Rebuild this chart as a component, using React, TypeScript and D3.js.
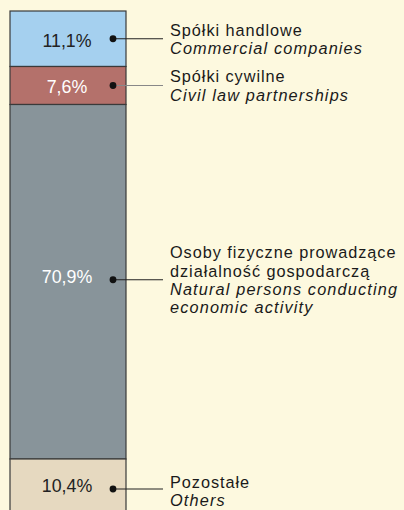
import React from "react";
import * as d3 from "d3";

const categories = ["commercial", "civil", "natural", "others"];
const values = [11.1, 7.6, 70.9, 10.4];
const valueLabels = ["11,1%", "7,6%", "70,9%", "10,4%"];
const labelsPl = [["Spółki handlowe"], ["Spółki cywilne"], ["Osoby fizyczne prowadzące", "działalność gospodarczą"], ["Pozostałe"]];
const labelsEn = [["Commercial companies"], ["Civil law partnerships"], ["Natural persons conducting", "economic activity"], ["Others"]];

const fills = ["#a5d0ef", "#b4716b", "#88949a", "#e6d9c0"];
const valueColors = ["#222", "#fff", "#fff", "#222"];
const leaderColors = ["#222", "#888", "#222", "#222"];

export default function App() {
  const W = 404, H = 510;
  const barX = 10, barW = 116;
  const y = d3.scaleLinear().domain([0, 100]).range([11, 511]);
  const stack = d3.cumsum(values);
  const segs = values.map((v, i) => ({ v, y0: i === 0 ? 0 : stack[i - 1], y1: stack[i] }));
  const font = "'Liberation Sans', Arial, sans-serif";
  const lineH = 18.4;
  return (
    <svg width={W} height={H} style={{ position: "absolute", left: 0, top: 0, display: "block" }}>
      <rect x={0} y={0} width={W} height={H} fill="#fdf9df" />
      {segs.map((s, i) => {
        const top = y(s.y0), bot = y(s.y1);
        const cy = (top + bot) / 2;
        const dotY = cy + (i === 3 ? 4 : i === 2 ? -2 : 0);
        const valY = cy + (i === 2 ? -5 : i === 0 ? 2 : 1);
        const lines = [...labelsPl[i].map(t => ({ t, it: false })), ...labelsEn[i].map(t => ({ t, it: true }))];
        const first = dotY - ((lines.length - 1) * lineH) / 2 + (i === 3 ? 8 : 6);
        return (
          <g key={categories[i]}>
            <rect x={barX} y={top} width={barW} height={bot - top} fill={fills[i]} stroke="#3a3a3a" strokeWidth={1.2} />
            <text x={barX + barW / 2 - 1} y={valY} dy="0.35em" textAnchor="middle" fontFamily={font} fontSize={17.8} fill={valueColors[i]}>{valueLabels[i]}</text>
            <line x1={113} x2={163} y1={dotY} y2={dotY} stroke={leaderColors[i]} strokeWidth={1.2} />
            <circle cx={113} cy={dotY} r={3.4} fill="#111" />
            {lines.map((l, j) => (
              <text key={j} x={170} y={first + j * lineH} fontFamily={font} fontSize={16.3}
                letterSpacing={l.it ? 1.15 : 0.95} fontStyle={l.it ? "italic" : "normal"} fill="#1a1a1a">{l.t}</text>
            ))}
          </g>
        );
      })}
    </svg>
  );
}
